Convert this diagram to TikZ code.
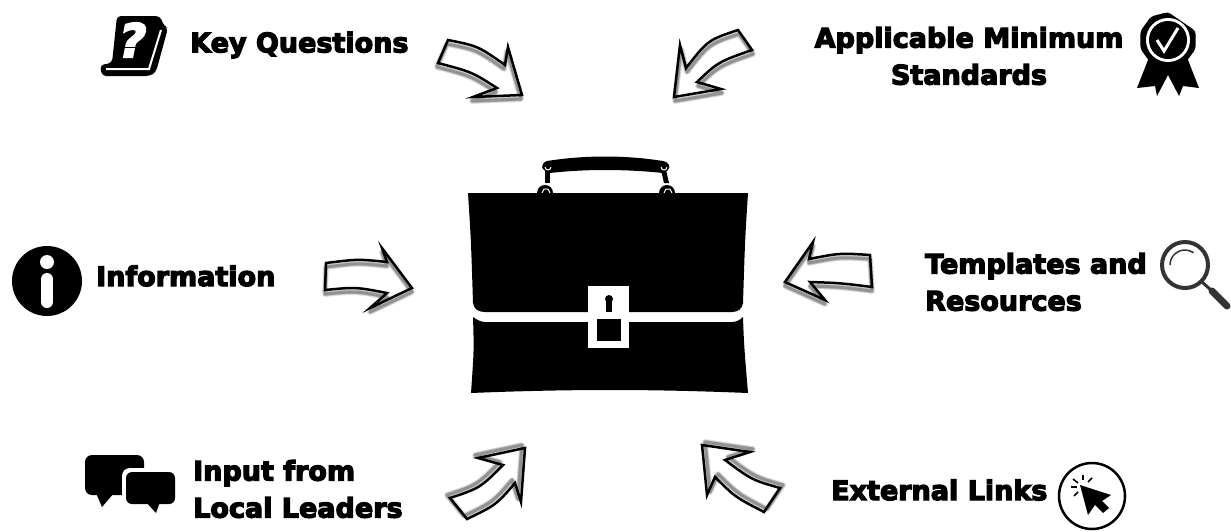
\documentclass[tikz,border=0pt]{standalone}
\usepackage{fontspec}
\setmainfont{DejaVu Sans}[BoldFeatures={FakeBold=4.5}]
\usepackage{tikz}
\usetikzlibrary{positioning}
\newcommand{\blockarrow}[2]{
  \foreach \wd/\op in {6/0.1,4.5/0.15,3/0.25}
    \draw[shift={#1}, line width=\wd pt, opacity=\op, line join=round] #2;
  \draw[arrowline] #2;
}
\begin{document}
\begin{tikzpicture}[
  x=1pt, y=-1pt,
  label/.style={font=\fontsize{27}{37}\selectfont\bfseries, inner sep=0pt, align=left},
  arrowline/.style={line width=2.5pt, line join=miter, black},
  glass/.style={line width=4pt, black!80},
]
  \useasboundingbox (0,0) rectangle (1231,531);

  \node[label, anchor=west] (questions) at (190,45) {Key Questions};
  \node[label, align=center] (standards) at (969,56) {Applicable Minimum\\Standards};
  \node[label, anchor=west] (information) at (96,276) {Information};
  \node[label, anchor=west] (templates) at (925,282) {Templates and\\Resources};
  \node[label, anchor=west] (input) at (193,489) {Input from\\Local Leaders};
  \node[label, anchor=west] (links) at (831,490) {External Links};

  \blockarrow{(-1,4)}{(448,40) .. controls (478,46) .. (505,65) -- (508,47) -- (522,95) -- (473,97) -- (497,88) .. controls (472,72) .. (438,63) -- cycle}
  \blockarrow{(1,4)}{(738,30) .. controls (708,40) .. (686,68) -- (680,45) -- (674,97) -- (721,89) -- (697,82) .. controls (718,62) .. (752,50) -- cycle}
  \blockarrow{(0,4)}{(326,263) .. controls (358,259) .. (387,262) -- (382,248) -- (412,288) -- (370,308) -- (387,293) .. controls (356,287) .. (325,290) -- cycle}
  \blockarrow{(0,4)}{(870,255) .. controls (840,253) .. (809,259) -- (813,242) -- (785,282) -- (825,300) -- (810,282) .. controls (840,283) .. (872,287) -- cycle}
  \blockarrow{(-3,-3)}{(450,498) .. controls (480,488) .. (503,465) -- (478,458) -- (525,448) -- (521,502) -- (515,483) .. controls (496,505) .. (467,519) -- cycle}
  \blockarrow{(3,-3)}{(780,488) .. controls (752,480) .. (725,460) -- (750,452) -- (702,445) -- (707,495) -- (715,477) .. controls (735,497) .. (764,512) -- cycle}

  \fill (468,193) -- (748,193) .. controls (745,240) .. (743,303) .. controls (742,309) and (738,312) .. (732,312)
    -- (485,312) .. controls (478,312) and (474,309) .. (473,303) .. controls (471,240) .. (468,193) -- cycle;
  \fill (473,317) .. controls (477,320) and (481,322) .. (485,322) -- (732,322) .. controls (736,322) and (740,320) .. (743,317)
    .. controls (744,345) .. (748,393) .. controls (650,389) and (570,389) .. (471,393) .. controls (474,350) .. (473,317) -- cycle;
  \fill[white] (588,286) rectangle (629,348);
  \fill (609,299) circle (4);
  \fill (606,300) rectangle (612,312);
  \fill (597,319) rectangle (621,341);
  \fill (547,161) .. controls (585,155) and (625,155) .. (663,161) -- (666,162) .. controls (671,165) and (671,170) .. (663,173)
    .. controls (625,169) and (585,169) .. (550,173) .. controls (540,170) and (540,164) .. (547,161) -- cycle;
  \fill (545,170) -- (550,170) -- (550,183) -- (545,183) -- cycle;
  \fill (661,170) -- (666,170) -- (669,183) -- (664,183) -- cycle;
  \fill (553,193) arc[start angle=0, end angle=-180, radius=8] -- cycle;
  \fill (675,193) arc[start angle=0, end angle=-180, radius=8] -- cycle;
  \draw[white, line width=1pt] (545,167) arc[start angle=180, end angle=0, radius=3];
  \draw[white, line width=1pt] (661,167) arc[start angle=180, end angle=0, radius=3];
  \draw[white, line width=1pt] (542,193) -- (544,189) -- (548,189) -- (550,193);
  \draw[white, line width=1pt] (664,193) -- (666,189) -- (670,189) -- (672,193);

  \fill[rounded corners=4pt] (112,63) -- (100,65) -- (102,76) -- (150,76) -- (156,72) -- (168,28) -- (164,26) -- (160,16) -- (117,16) -- cycle;
  \draw[white, line width=2pt] (106,69) -- (149,69) -- (161,30);
  \node[white, font=\fontsize{46}{46}\selectfont\bfseries, inner sep=0pt, xslant=0.2, transform shape] (mark) at (133,40) {?};

  \fill (1148,60) -- (1137,88) -- (1155,86) -- (1157,96) -- (1168,75) -- (1179,96) -- (1183,86) -- (1199,88) -- (1188,60) -- cycle;
  \fill[rounded corners=3pt] (1168,12) \foreach \ang in {126,162,...,378} {-- ({1168+29*cos(\ang)},{40-29*sin(\ang)})} -- cycle;
  \fill[white] (1168,40) circle (22);
  \fill (1168,40) circle (19);
  \draw[white, line width=3pt] (1157,40) -- (1164,51) -- (1178,28);

  \fill (47,281) circle (35);
  \fill[white] (47,262) circle (7);
  \draw[white, line width=12pt, line cap=round] (47,279) -- (47,302);

  \draw[glass] (1185,265) circle (23);
  \draw[black!80, line width=1.5pt] (1170,265) arc[start angle=180, end angle=55, x radius=15, y radius=-15];
  \draw[black!80, line width=3pt] (1202,282) -- (1212,291);
  \draw[black!80, line width=7pt, line cap=round] (1212,291) -- (1227,306);

  \fill[rounded corners=7pt] (85,455) rectangle (144,495);
  \fill (96,493) -- (102,507) -- (114,493) -- cycle;
  \fill[white, rounded corners=8pt] (122,468) rectangle (179,508);
  \fill[rounded corners=6pt] (126,472) rectangle (175,504);
  \fill (146,502) -- (156,513) -- (160,502) -- cycle;

  \draw[line width=2.5pt] (1092,496) circle (33);
  \fill (1080,485) -- (1111,495) -- (1102,501) -- (1109,508) -- (1103,513) -- (1095,505) -- (1088,515) -- cycle;
  \foreach \ax/\ay/\bx/\by in {1073/479/1078/483,1083/475/1083/480,1092/478/1088/482,1071/487/1077/487,1074/496/1078/492}
    \draw[line width=1.5pt] (\ax,\ay) -- (\bx,\by);
\end{tikzpicture}
\end{document}
